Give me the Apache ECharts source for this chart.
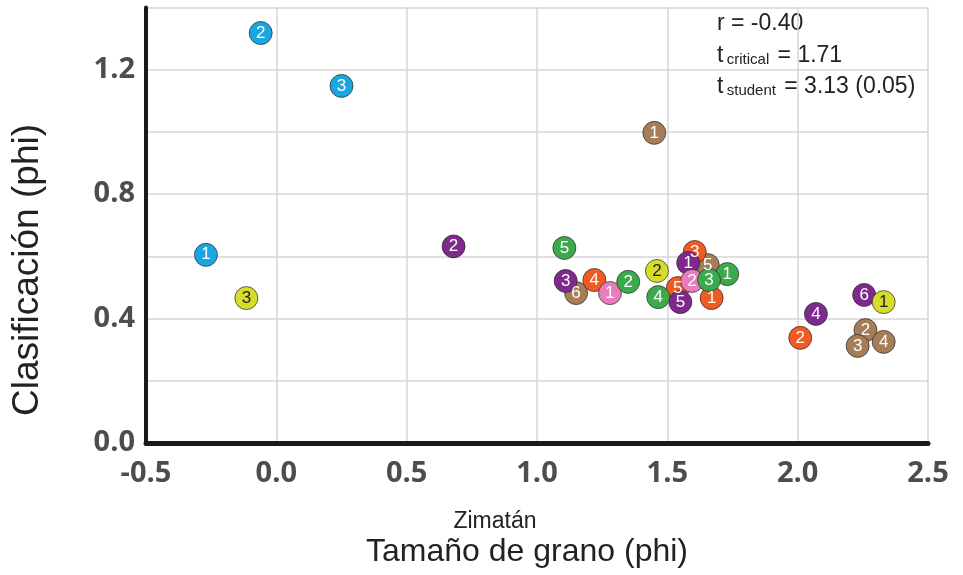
<!DOCTYPE html>
<html>
<head>
<meta charset="utf-8">
<script src="https://cdn.jsdelivr.net/npm/echarts@6/dist/echarts.min.js"></script>
<style>
  html, body { margin: 0; padding: 0; background: #fff; }
  #chart { width: 963px; height: 575px; }
</style>
</head>
<body>
<div id="chart"></div>
<script>
// [tamaño de grano, clasificación, etiqueta]
var azul = [[-0.27, 0.605, '1'], [-0.06, 1.318, '2'], [0.25, 1.148, '3']];
var amarillo = [[2.33, 0.453, '1'], [1.46, 0.553, '2'], [-0.115, 0.466, '3']];
var morado = [[1.58, 0.579, '1'], [0.68, 0.632, '2'], [1.11, 0.521, '3'], [2.07, 0.415, '4'], [1.55, 0.453, '5'], [2.255, 0.476, '6']];
var verde = [[1.73, 0.543, '1'], [1.35, 0.518, '2'], [1.66, 0.524, '3'], [1.465, 0.469, '4'], [1.105, 0.627, '5']];
var naranja = [[1.67, 0.466, '1'], [2.01, 0.338, '2'], [1.605, 0.614, '3'], [1.22, 0.524, '4'], [1.54, 0.498, '5']];
var cafe = [[1.45, 0.997, '1'], [2.26, 0.363, '2'], [2.23, 0.312, '3'], [2.33, 0.325, '4'], [1.655, 0.572, '5'], [1.15, 0.482, '6']];
var rosa = [[1.28, 0.482, '1'], [1.595, 0.521, '2']];

var stats = {r: '-0.40', tcrit: '1.71', tstud: '3.13 (0.05)'};

function grupo(data, color, textColor) {
  return {
    type: 'scatter',
    data: data,
    symbol: 'circle',
    symbolSize: 23,
    itemStyle: {color: color, borderColor: 'rgba(40,40,40,0.7)', borderWidth: 1, opacity: 1},
    label: {
      show: true, position: 'inside',
      formatter: function (p) { return p.data[2]; },
      color: textColor, fontSize: 17, fontFamily: 'Liberation Sans'
    },
    emphasis: {disabled: true}
  };
}

var tickFont = {fontFamily: 'Open Sans', fontWeight: 'bold', fontSize: 29, color: '#4d4d4d'};

const chart = echarts.init(document.getElementById('chart'));
chart.setOption({
  backgroundColor: '#fff',
  animation: false,
  grid: {left: 146, right: 35, top: 7.5, bottom: 132},
  xAxis: {
    type: 'value', min: -0.5, max: 2.5, interval: 0.5,
    axisLine: {show: true, onZero: false, lineStyle: {color: '#1a1a1a', width: 5}},
    axisTick: {show: false},
    splitLine: {show: true, lineStyle: {color: '#d6d6d6', width: 1.5}},
    axisLabel: Object.assign({margin: 16, formatter: function (v) { return v.toFixed(1); }}, tickFont)
  },
  yAxis: {
    type: 'value', min: 0, max: 1.4, interval: 0.2,
    axisLine: {show: true, onZero: false, lineStyle: {color: '#1a1a1a', width: 4}},
    axisTick: {show: false},
    splitLine: {show: true, lineStyle: {color: '#d6d6d6', width: 1.5}},
    axisLabel: Object.assign({margin: 11, formatter: function (v) {
      return Math.round(v * 10) % 4 === 0 ? v.toFixed(1) : '';
    }}, tickFont)
  },
  series: [
    grupo(cafe, '#a57d57', '#fff'),
    grupo(naranja, '#f15a22', '#fff'),
    grupo(morado, '#7d2a8c', '#fff'),
    grupo(rosa, '#ea7bbf', '#fff'),
    grupo(verde, '#3caa4c', '#fff'),
    grupo(amarillo, '#d6dc2a', '#222'),
    grupo(azul, '#1aa6e0', '#fff')
  ],
  graphic: [
    {type: 'text', x: 28, y: 270, rotation: Math.PI / 2,
     style: {text: 'Clasificación (phi)', font: '37px "Liberation Sans"', fill: '#222', align: 'center', verticalAlign: 'middle'}},
    {type: 'text', x: 495, y: 522,
     style: {text: 'Zimatán', font: '23px "Liberation Sans"', fill: '#222', align: 'center', verticalAlign: 'middle'}},
    {type: 'text', x: 527, y: 552,
     style: {text: 'Tamaño de grano (phi)', font: '32px "Liberation Sans"', fill: '#222', align: 'center', verticalAlign: 'middle'}},
    {type: 'text', x: 717, y: 24,
     style: {text: 'r = ' + stats.r, font: '23px "Liberation Sans"', fill: '#222', align: 'left', verticalAlign: 'middle'}},
    {type: 'text', x: 717, y: 55,
     style: {
       text: '{a|t} {s|critical} {a|= ' + stats.tcrit + '}',
       align: 'left', verticalAlign: 'middle',
       rich: {
         a: {fontFamily: 'Liberation Sans', fontSize: 23, fill: '#222', color: '#222', lineHeight: 24, verticalAlign: 'bottom'},
         s: {fontFamily: 'Liberation Sans', fontSize: 15, fill: '#222', color: '#222', lineHeight: 17, verticalAlign: 'bottom', padding: [0, 5, 0, 0]}
       }
     }},
    {type: 'text', x: 717, y: 86,
     style: {
       text: '{a|t} {s|student} {a|= ' + stats.tstud + '}',
       align: 'left', verticalAlign: 'middle',
       rich: {
         a: {fontFamily: 'Liberation Sans', fontSize: 23, fill: '#222', color: '#222', lineHeight: 24, verticalAlign: 'bottom'},
         s: {fontFamily: 'Liberation Sans', fontSize: 15, fill: '#222', color: '#222', lineHeight: 17, verticalAlign: 'bottom', padding: [0, 5, 0, 0]}
       }
     }}
  ]
});
</script>
</body>
</html>
